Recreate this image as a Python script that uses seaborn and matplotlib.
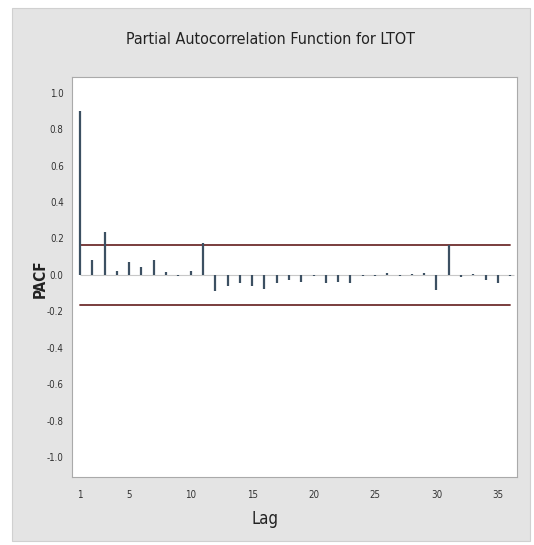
import matplotlib
matplotlib.use("Agg")
import matplotlib.pyplot as plt
import seaborn as sns
import numpy as np
import pandas as pd
from matplotlib.patches import Rectangle

lags = list(range(1, 37))
pacf = [0.90, 0.082, 0.237, 0.024, 0.073, 0.046, 0.082, 0.018, -0.005, 0.024,
        0.175, -0.086, -0.060, -0.046, -0.060, -0.078, -0.046, -0.030, -0.036, -0.005,
        -0.046, -0.040, -0.046, -0.008, -0.005, 0.013, -0.005, 0.003, 0.013, -0.082,
        0.165, -0.013, 0.003, -0.030, -0.046, -0.005]
limit = 0.164
yticks = [1.0, 0.8, 0.6, 0.4, 0.2, 0.0, -0.2, -0.4, -0.6, -0.8, -1.0]
xticks = [1, 5, 10, 15, 20, 25, 30, 35]
title = "Partial Autocorrelation Function for LTOT"

sns.set_theme(style="white")
plt.rcParams['font.family'] = ['DejaVu Sans']
plt.rcParams['font.stretch'] = 'condensed'

W, H = 534, 545
fig = plt.figure(figsize=(W / 100, H / 100), dpi=100, facecolor="white")
panel = Rectangle((12 / W, 1 - 541 / H), (530 - 12) / W, (541 - 8) / H,
                  transform=fig.transFigure, facecolor="#e4e4e4",
                  edgecolor="#d0d0d0", lw=0.8, zorder=-5)
fig.add_artist(panel)
ax = fig.add_axes([72 / W, 1 - 477 / H, (517 - 72) / W, (477 - 77) / H])
ax.set_zorder(2)
ax.set_facecolor("white")

df = pd.DataFrame({"lag": lags, "pacf": pacf})

# baseline
ax.hlines(0, lags[0], lags[-1] + 0.3, color="#c8c8c8", lw=0.8, zorder=1)
# stems
ax.vlines(df["lag"], 0, df["pacf"], color="#3c5062", lw=1.6, zorder=3)
# significance limits
lim_df = pd.DataFrame({"lag": [lags[0], lags[-1]] * 2,
                       "val": [limit, limit, -limit, -limit],
                       "side": ["u", "u", "l", "l"]})
sns.lineplot(data=lim_df, x="lag", y="val", units="side", estimator=None,
             color="#6e2e2e", lw=1.3, ax=ax, zorder=2)

ax.set_xlim(0.35, 36.55)
ax.set_ylim(-1.107, 1.085)
ax.set_xticks(xticks)
ax.set_xticklabels([str(t) for t in xticks])
ax.set_yticks(yticks)
ax.set_yticklabels([f"{t:.1f}" for t in yticks])
ax.tick_params(axis="both", labelsize=7, colors="#333333", length=3, width=0.6,
               direction="out", pad=3, color="#999999")
ax.tick_params(axis="x", pad=6)
for s in ax.spines.values():
    s.set_color("#aaaaaa")
    s.set_linewidth(0.8)

ax.set_xlabel("Lag", fontsize=12, color="#222222")
ax.xaxis.set_label_coords(0.434, -0.082)
ax.set_ylabel("PACF", fontsize=11, fontweight="bold", color="#222222")
ax.yaxis.set_label_coords(-0.072, 0.495)
ax.yaxis.label.set_va("center")
fig.text(271 / W, 1 - 40 / H, title, ha="center", va="center", fontsize=11.5,
         color="#222222")

fig.savefig("out.png", dpi=100, facecolor="white")
